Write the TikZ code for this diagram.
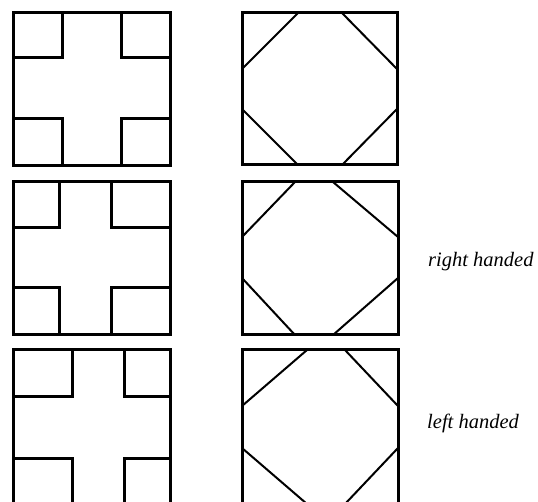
\documentclass[tikz,border=0pt]{standalone}
\usepackage{fontspec}
\setmainfont{Liberation Serif}
\begin{document}
\begin{tikzpicture}[x=1pt,y=-1pt,
  frame/.style={line width=3pt, line join=miter},
  inner/.style={line width=3pt, line join=miter},
  diag/.style={line width=2pt},
  lab/.style={anchor=base west, inner sep=0pt, font=\fontsize{20.5}{24}\selectfont\itshape}]
\useasboundingbox[fill=white] (0,0) rectangle (538,502);
% row 1
\draw[frame] (13,13) rectangle (170,166);
\draw[inner] (62,13) -- (62,58) -- (13,58);
\draw[inner] (121,13) -- (121,58) -- (170,58);
\draw[inner] (13,119) -- (62,119) -- (62,166);
\draw[inner] (170,119) -- (121,119) -- (121,166);
\draw[frame] (242,13) rectangle (397,165);
\draw[diag] (298,13) -- (242,69);
\draw[diag] (342,13) -- (397,69);
\draw[diag] (242,109) -- (298,165);
\draw[diag] (397,109) -- (342,165);
% row 2
\draw[frame] (13,182) rectangle (170,335);
\draw[inner] (59,182) -- (59,228) -- (13,228);
\draw[inner] (111,182) -- (111,228) -- (170,228);
\draw[inner] (13,288) -- (59,288) -- (59,335);
\draw[inner] (170,288) -- (111,288) -- (111,335);
\draw[frame] (242,182) rectangle (398,335);
\draw[diag] (295,182) -- (242,237);
\draw[diag] (333,182) -- (398,237);
\draw[diag] (242,278) -- (295,335);
\draw[diag] (398,278) -- (333,335);
% row 3
\draw[frame] (13,350) rectangle (170,504);
\draw[inner] (72,350) -- (72,396) -- (13,396);
\draw[inner] (124,350) -- (124,396) -- (170,396);
\draw[inner] (13,458) -- (72,458) -- (72,504);
\draw[inner] (170,458) -- (124,458) -- (124,504);
\draw[frame] (242,350) rectangle (398,504);
\draw[diag] (307,350) -- (242,406);
\draw[diag] (345,350) -- (398,406);
\draw[diag] (242,448) -- (307,504);
\draw[diag] (398,448) -- (345,504);
% labels
\node[lab] (rh) at (428,266.5) {right handed};
\node[lab] (lh) at (427,428.3) {left handed};
\end{tikzpicture}
\end{document}
